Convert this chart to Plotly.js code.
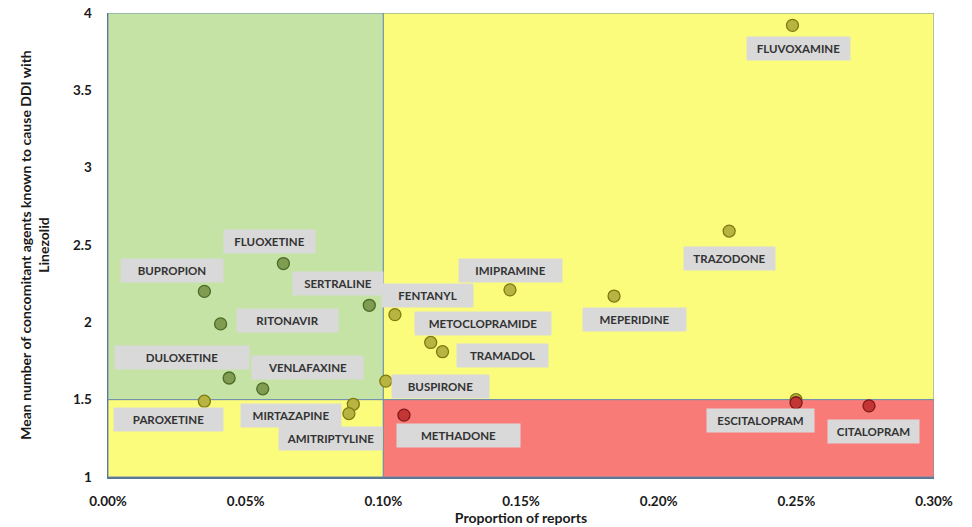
<!DOCTYPE html>
<html>
<head>
<meta charset="utf-8">
<script src="https://cdn.plot.ly/plotly-3.0.1.min.js"></script>
<style>
  html, body { margin: 0; padding: 0; background: #ffffff; }
  #chart { width: 972px; height: 527px; }
</style>
</head>
<body>
<div id="chart"></div>
<script>
// Proportion of reports (%) vs mean number of concomitant DDI agents, per drug

// Low-risk quadrant (green points)
const greenNames = ['FLUOXETINE', 'BUPROPION', 'SERTRALINE', 'RITONAVIR', 'DULOXETINE', 'VENLAFAXINE'];
const greenX = [0.0637, 0.0350, 0.0949, 0.0409, 0.0440, 0.0562];
const greenY = [2.38, 2.20, 2.11, 1.99, 1.64, 1.57];

// Intermediate quadrants (yellow points)
const yellowNames = ['FLUVOXAMINE', 'TRAZODONE', 'MEPERIDINE', 'IMIPRAMINE', 'FENTANYL', 'METOCLOPRAMIDE',
                     'TRAMADOL', 'BUSPIRONE', 'PAROXETINE', 'MIRTAZAPINE', 'AMITRIPTYLINE', ''];
const yellowX = [0.2486, 0.2256, 0.1838, 0.1460, 0.1042, 0.1172, 0.1215, 0.1009, 0.0350, 0.0891, 0.0875, 0.2499];
const yellowY = [3.92, 2.59, 2.17, 2.21, 2.05, 1.87, 1.81, 1.62, 1.49, 1.47, 1.41, 1.50];

// High-risk quadrant (red points)
const redNames = ['METHADONE', 'ESCITALOPRAM', 'CITALOPRAM'];
const redX = [0.1075, 0.2499, 0.2764];
const redY = [1.40, 1.48, 1.46];

// Axis ticks
const xTicks = [0, 0.05, 0.10, 0.15, 0.20, 0.25, 0.30];
const xTickText = ['0.00%', '0.05%', '0.10%', '0.15%', '0.20%', '0.25%', '0.30%'];
const yTicks = [1, 1.5, 2, 2.5, 3, 3.5, 4];
const yTickText = ['1', '1.5', '2', '2.5', '3', '3.5', '4'];

// Quadrant thresholds
const xSplit = 0.10;
const ySplit = 1.5;

// Label box placement: [xshift px, yshift px, box width px]
const labelLayout = {
  FLUVOXAMINE: [6, -23, 103],
  TRAZODONE: [0, -27, 91],
  MEPERIDINE: [20, -23, 103],
  IMIPRAMINE: [1, 19, 103],
  FENTANYL: [33, 19, 91],
  METOCLOPRAMIDE: [52, 19, 136],
  TRAMADOL: [60, -4, 91],
  BUSPIRONE: [55, -5, 97],
  METHADONE: [55, -20, 123],
  ESCITALOPRAM: [-36, -18, 107],
  CITALOPRAM: [4, -26, 91],
  FLUOXETINE: [-14, 22, 91],
  BUPROPION: [-32, 21, 102],
  SERTRALINE: [-31, 22, 90],
  RITONAVIR: [67, 3, 101],
  DULOXETINE: [-47, 21, 134],
  VENLAFAXINE: [45, 21, 111],
  PAROXETINE: [-36, -18, 109],
  MIRTAZAPINE: [-62, -11, 100],
  AMITRIPTYLINE: [-18, -25, 103]
};

const FONT = 'Lato, "Open Sans", "Liberation Sans", sans-serif';
const PAD = 3;

function pointTrace(name, xs, ys, labels, fill, edge) {
  return {
    type: 'scatter',
    mode: 'markers',
    name: name,
    x: xs,
    y: ys,
    hovertext: labels,
    hoverinfo: 'text+x+y',
    marker: { size: 12, color: fill, line: { color: edge, width: 1.3 } },
    showlegend: false
  };
}

const traces = [
  pointTrace('Low', greenX, greenY, greenNames, '#7f9c50', '#4c6a28'),
  pointTrace('Medium', yellowX, yellowY, yellowNames, '#b8b442', '#7d7a12'),
  pointTrace('High', redX, redY, redNames, '#c43636', '#7e1818')
];

// One grey label box per named point, anchored on the point itself
const annotations = [];
function addLabels(names, xs, ys) {
  names.forEach((n, i) => {
    if (!n || !labelLayout[n]) return;
    const [dx, dy, w] = labelLayout[n];
    annotations.push({
      x: xs[i], y: ys[i], xref: 'x', yref: 'y',
      text: '<b>' + n + '</b>',
      showarrow: false,
      xshift: dx, yshift: dy,
      width: w - 2 * PAD, height: 17,
      bgcolor: '#d9d9d9',
      borderpad: PAD,
      font: { family: FONT, size: 11.5, color: '#333333' }
    });
  });
}
addLabels(greenNames, greenX, greenY);
addLabels(yellowNames, yellowX, yellowY);
addLabels(redNames, redX, redY);

const xMin = xTicks[0], xMax = xTicks[xTicks.length - 1];
const yMin = yTicks[0], yMax = yTicks[yTicks.length - 1];
const edge = { color: '#6f8fae', width: 1 };

const shapes = [
  { type: 'rect', xref: 'x', yref: 'y', x0: xMin, x1: xSplit, y0: ySplit, y1: yMax, fillcolor: '#c6e3a6', line: edge, layer: 'below' },
  { type: 'rect', xref: 'x', yref: 'y', x0: xSplit, x1: xMax, y0: ySplit, y1: yMax, fillcolor: '#fcfc7c', line: edge, layer: 'below' },
  { type: 'rect', xref: 'x', yref: 'y', x0: xMin, x1: xSplit, y0: yMin, y1: ySplit, fillcolor: '#fcfc7c', line: edge, layer: 'below' },
  { type: 'rect', xref: 'x', yref: 'y', x0: xSplit, x1: xMax, y0: yMin, y1: ySplit, fillcolor: '#f87b78', line: edge, layer: 'below' }
];

const layout = {
  width: 972,
  height: 527,
  margin: { l: 108, r: 38, t: 13, b: 50 },
  paper_bgcolor: '#ffffff',
  plot_bgcolor: '#ffffff',
  font: { family: FONT, color: '#1a1a1a' },
  xaxis: {
    range: [xMin, xMax],
    tickvals: xTicks,
    ticktext: xTickText,
    showgrid: false,
    zeroline: false,
    showline: true,
    linecolor: '#5d7894',
    linewidth: 1.5,
    ticks: '',
    ticklabelstandoff: 11,
    tickfont: { family: FONT, size: 13.5, color: '#1a1a1a', weight: 'bold' },
    title: { text: '<b>Proportion of reports</b>', font: { family: FONT, size: 14, color: '#1a1a1a' }, standoff: 4 }
  },
  yaxis: {
    range: [yMin, yMax],
    tickvals: yTicks,
    ticktext: yTickText,
    showgrid: false,
    zeroline: false,
    showline: true,
    linecolor: '#5d7894',
    linewidth: 1.5,
    ticks: '',
    ticklabelstandoff: 12,
    tickfont: { family: FONT, size: 13.5, color: '#1a1a1a', weight: 'bold' },
    title: { text: '<b>Mean number of concomitant agents known to cause DDI with<br>Linezolid</b>', font: { family: FONT, size: 14, color: '#1a1a1a' }, standoff: 20 }
  },
  shapes: shapes,
  annotations: annotations
};

Plotly.newPlot('chart', traces, layout, { displayModeBar: false, staticPlot: true });
</script>
</body>
</html>
